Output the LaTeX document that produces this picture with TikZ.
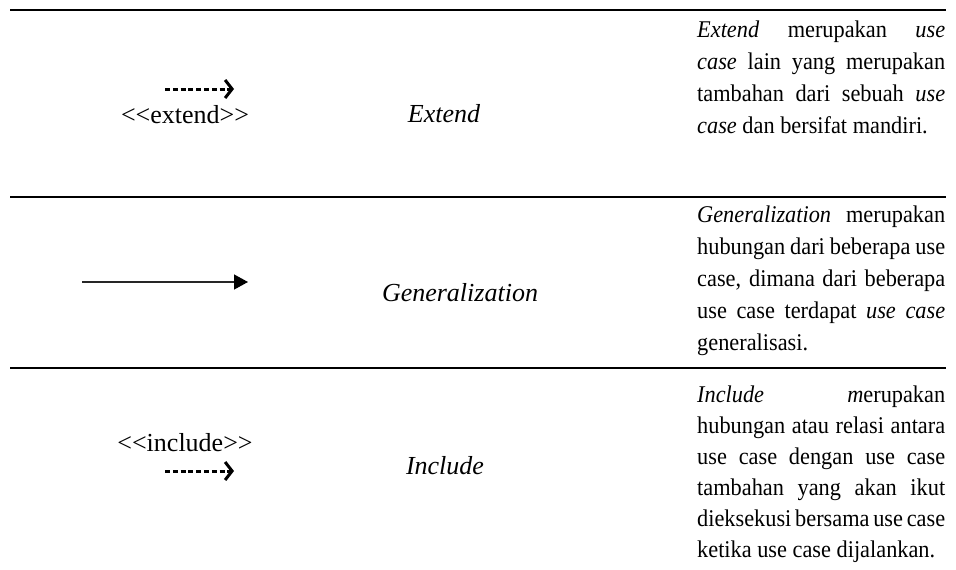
\documentclass[tikz,border=0pt]{standalone}
\usepackage{fontspec}
\setmainfont{Liberation Serif}
\newfontfamily\descfont{Liberation Serif}[FakeStretch=0.93]
\usetikzlibrary{arrows.meta}

\tikzset{
  rule/.style={line width=2.4pt, black},
  label/.style={font=\fontsize{26}{30}\selectfont, inner sep=0pt},
  kind/.style={font=\fontsize{26}{30}\selectfont\itshape, inner sep=0pt},
  descline/.style={anchor=base west, inner sep=0pt, font=\descfont\fontsize{24}{28}\selectfont},
  depend/.style={line width=3pt, dash pattern=on 5pt off 2.8pt,
    -{Straight Barb[length=7pt, width=18pt, line width=3pt]}},
  general/.style={line width=1.3pt, black!85,
    -{Triangle[length=14pt, width=15pt, color=black, fill=black]}},
}
\newcommand{\jline}[1]{\makebox[248pt][s]{#1}}

\begin{document}
\begin{tikzpicture}[x=1pt, y=-1pt]
\useasboundingbox (0,0) rectangle (956,570);

% table rules
\draw[rule] (10,10) -- (946,10);
\draw[rule] (10,197) -- (946,197);
\draw[rule] (10,368) -- (946,368);

% row 1: extend
\coordinate (e1) at (165,89);
\coordinate (e2) at (234,89);
\draw[depend] (e1) -- (e2);
\node[label] (extlbl) at (185,115) {<{}<extend>{}>};
\node[kind] (extname) at (444,114) {Extend};
\node[descline] (d11) at (697,37)  {\jline{\textit{Extend} merupakan \textit{use}}};
\node[descline] (d12) at (697,69)  {\jline{\textit{case} lain yang merupakan}};
\node[descline] (d13) at (697,101) {\jline{tambahan dari sebuah \textit{use}}};
\node[descline] (d14) at (697,133) {\textit{case} dan bersifat mandiri.};

% row 2: generalization
\coordinate (g1) at (82,282);
\coordinate (g2) at (248,282);
\draw[general] (g1) -- (g2);
\node[kind] (genname) at (460,293) {Generalization};
\node[descline] (d21) at (697,222) {\jline{\textit{Generalization} merupakan}};
\node[descline] (d22) at (697,254) {\jline{hubungan dari beberapa use}};
\node[descline] (d23) at (697,286) {\jline{case, dimana dari beberapa}};
\node[descline] (d24) at (697,318) {\jline{use case terdapat \textit{use case}}};
\node[descline] (d25) at (697,350) {generalisasi.};

% row 3: include
\node[label] (inclbl) at (185,443) {<{}<include>{}>};
\coordinate (i1) at (165,471);
\coordinate (i2) at (234,471);
\draw[depend] (i1) -- (i2);
\node[kind] (incname) at (445,466) {Include};
\node[descline] (d31) at (697,402) {\jline{\textit{Include} \textit{m}erupakan}};
\node[descline] (d32) at (697,433) {\jline{hubungan atau relasi antara}};
\node[descline] (d33) at (697,464) {\jline{use case dengan use case}};
\node[descline] (d34) at (697,495) {\jline{tambahan yang akan ikut}};
\node[descline] (d35) at (697,526) {\jline{dieksekusi bersama use case}};
\node[descline] (d36) at (697,557) {ketika use case dijalankan.};
\end{tikzpicture}
\end{document}
